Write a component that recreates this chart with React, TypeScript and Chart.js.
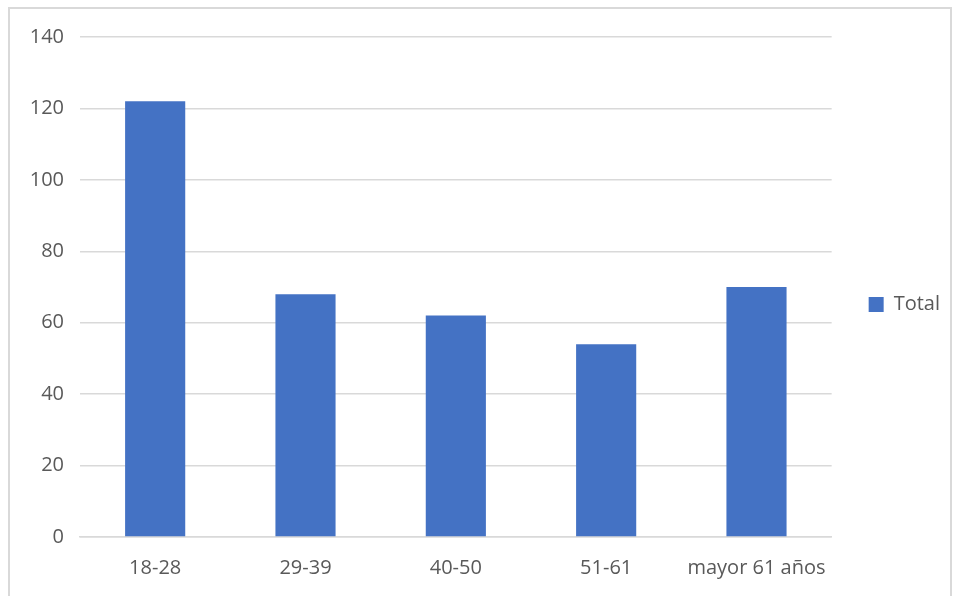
import React, { useEffect, useRef } from "react";
import { Chart, registerables } from "chart.js";

Chart.register(...registerables);

const categories = ["18-28", "29-39", "40-50", "51-61", "mayor 61 años"];
const totalValues = [122, 68, 62, 54, 70];
const seriesName = "Total";

const FONT = "'Open Sans', 'Liberation Sans', sans-serif";
const TEXT = "#595959";
const GRID = "#d9d9d9";
const BAR = "#4472C4";

export default function App() {
  const ref = useRef<HTMLCanvasElement | null>(null);

  useEffect(() => {
    if (!ref.current) return;
    const chart = new Chart(ref.current, {
      type: "bar",
      data: {
        labels: categories,
        datasets: [
          {
            label: seriesName,
            data: totalValues,
            backgroundColor: BAR,
            borderWidth: 0,
            barPercentage: 0.4,
            categoryPercentage: 1,
          },
        ],
      },
      options: {
        responsive: false,
        animation: false,
        layout: { padding: { top: 37, right: 3, bottom: 0, left: 0 } },
        plugins: {
          tooltip: { enabled: false },
          legend: {
            position: "right",
            fullSize: false,
            title: {
              display: true,
              text: " ",
              padding: 5.5,
              font: { family: FONT, size: 20 },
            },
            labels: {
              boxWidth: 15,
              boxHeight: 15,
              padding: 37,
              color: TEXT,
              font: { family: FONT, size: 20 },
            },
          },
        },
        scales: {
          x: {
            grid: { display: false, drawTicks: false },
            border: { display: true, color: GRID, width: 1.5 },
            ticks: {
              color: TEXT,
              font: { family: FONT, size: 20 },
              padding: 19,
              maxRotation: 0,
              autoSkip: false,
            },
            afterFit: (s: any) => {
              s.height = 59;
            },
          },
          y: {
            min: 0,
            max: 140,
            ticks: {
              stepSize: 20,
              color: TEXT,
              font: { family: FONT, size: 20 },
              padding: 16,
            },
            grid: { color: GRID, lineWidth: 1.5, drawTicks: false },
            border: { display: false },
            afterFit: (s: any) => {
              s.width = 80;
            },
          },
        },
      } as any,
    });
    return () => chart.destroy();
  }, []);

  return (
    <div
      style={{
        position: "fixed",
        left: 0,
        top: 0,
        width: 953,
        height: 596,
        overflow: "hidden",
        background: "#fff",
      }}
    >
      <div
        style={{
          position: "absolute",
          left: 8,
          top: 7,
          width: 944,
          height: 640,
          boxSizing: "border-box",
          border: "2px solid #d9d9d9",
        }}
      />
      <canvas
        ref={ref}
        width={953}
        height={596}
        style={{ position: "absolute", left: 0, top: 0, width: 953, height: 596 }}
      />
    </div>
  );
}
